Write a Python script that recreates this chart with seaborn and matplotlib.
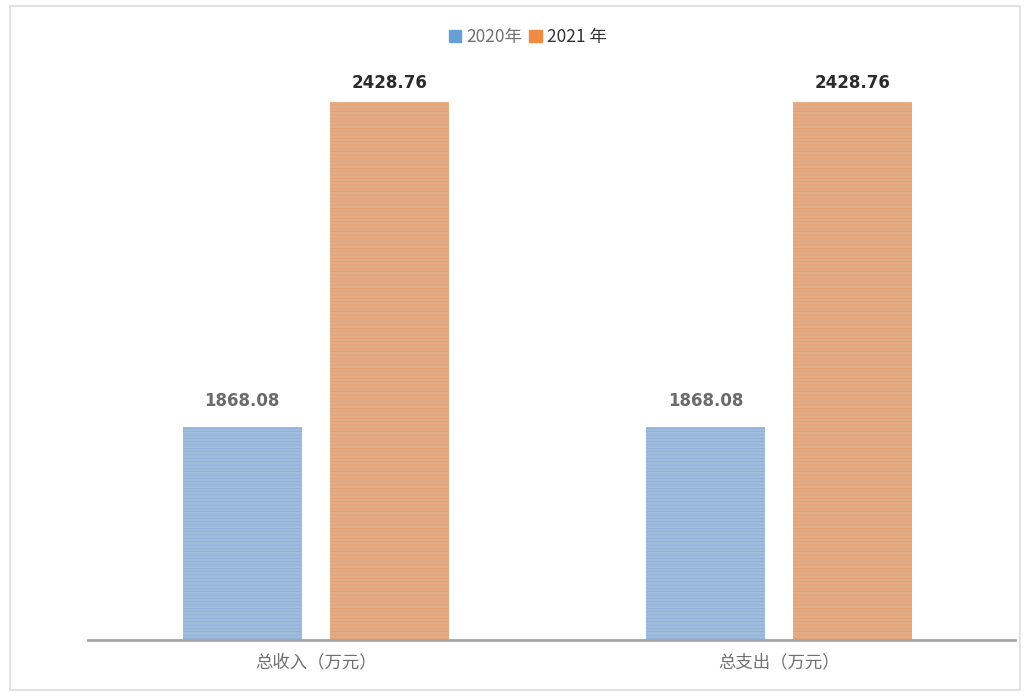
import pandas as pd
from matplotlib import pyplot as plt
from matplotlib.patches import Rectangle
import seaborn as sns

categories = ['总收入（万元）', '总支出（万元）']
years = ['2020年', '2021 年']
values_2020 = [1868.08, 1868.08]
values_2021 = [2428.76, 2428.76]

df = pd.DataFrame({
    'cat': categories * 2,
    'year': [years[0]] * 2 + [years[1]] * 2,
    'val': values_2020 + values_2021,
})

sns.set_style('white')
plt.rcParams['font.family'] = ['Noto Sans CJK SC', 'DejaVu Sans']
plt.rcParams['hatch.linewidth'] = 0.4

palette = {years[0]: '#96bbe6', years[1]: '#f0a977'}
hatch_col = {years[0]: '#86acda', years[1]: '#e59b68'}
legend_col = {years[0]: '#6a9fd6', years[1]: '#f08a45'}

fig = plt.figure(figsize=(10.25, 7), dpi=100)
ax = fig.add_axes([0.086, 0.086, 0.904, 0.827])

sns.barplot(data=df, x='cat', y='val', hue='year', palette=palette,
            width=0.634, gap=0.19, ax=ax, legend=False)

for container, yr in zip(ax.containers, years):
    for bar in container:
        bar.set_hatch('-' * 5)
        bar.set_edgecolor(hatch_col[yr])
        bar.set_linewidth(0)

ax.bar_label(ax.containers[0], fmt='%.2f', padding=12, fontsize=12,
             fontweight='bold', color='#6b6b6b', family='DejaVu Sans')
ax.bar_label(ax.containers[1], fmt='%.2f', padding=7, fontsize=12,
             fontweight='bold', color='#2b2b2b', family='DejaVu Sans')

ax.set_ylim(1500, 2500)
ax.set_xlim(-0.491, 1.509)
ax.set_yticks([])
ax.set_xlabel('')
ax.set_ylabel('')
for s in ['top', 'right', 'left']:
    ax.spines[s].set_visible(False)
ax.spines['bottom'].set_color('#a6a6a6')
ax.spines['bottom'].set_linewidth(2)
ax.tick_params(axis='x', length=0, pad=10, labelsize=12.5, labelcolor='#707070')

# legend
handles = [Rectangle((0, 0), 1, 1, color=legend_col[y]) for y in years]
leg = fig.legend(handles, years, loc='center', bbox_to_anchor=(0.515, 0.947),
                 ncol=2, frameon=False, fontsize=12.5, handlelength=0.7,
                 handleheight=0.7, handletextpad=0.3, columnspacing=0.4)
leg.get_texts()[0].set_color('#707070')
leg.get_texts()[1].set_color('#333333')

# light frame around picture
fig.patches.append(Rectangle((0.01, 0.015), 0.985, 0.977, transform=fig.transFigure,
                             fill=False, edgecolor='#dddddd', linewidth=1.2))

plt.savefig('out.png', dpi=100)
